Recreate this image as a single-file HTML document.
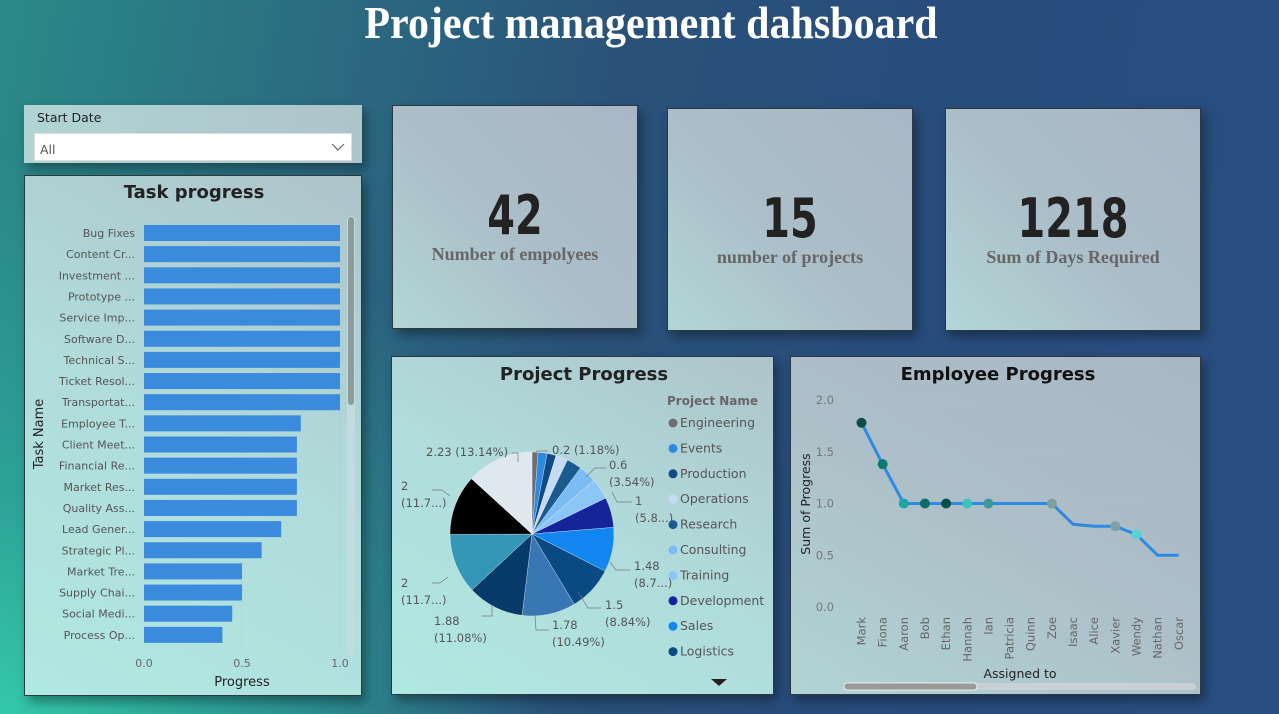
<!DOCTYPE html>
<html><head><meta charset="utf-8">
<style>
*{margin:0;padding:0;box-sizing:border-box}
body{width:1279px;height:714px;overflow:hidden;position:relative;font-family:"Liberation Sans",sans-serif;
background:
radial-gradient(ellipse 560px 560px at 0px 714px, rgba(52,200,170,1) 0%, rgba(45,170,155,0.8) 40%, rgba(40,120,130,0) 100%),
linear-gradient(100deg,#2a8a88 0%,#2b6a80 25%,#2a5279 45%,#284c7c 70%,#294e80 100%);}
.title{position:absolute;left:0;width:1302px;top:0px;text-align:center;font-family:"Liberation Serif",serif;font-weight:bold;font-size:42px;color:#fff;transform:scaleY(1.08)}
.panel{position:absolute;border:1px solid #2a3a40;box-shadow:4px 6px 10px rgba(0,0,0,0.35)}
.kpi{background:linear-gradient(45deg,#b2d6d8 0%,#abbfc8 45%,#a9b6c6 100%);text-align:center}
.kpi .n{position:absolute;left:0;right:0;top:78px;font-family:"DejaVu Sans Condensed","DejaVu Sans",sans-serif;font-weight:bold;font-size:54px;color:#222;transform:scaleX(0.82)}
.kpi .l{position:absolute;left:0;right:0;top:138px;font-family:"Liberation Serif",serif;font-weight:bold;font-size:18px;color:#666}
.light{background:linear-gradient(30deg,#b0e8e2 0%,#b0dcdb 50%,#aec4cb 100%)}
svg text{font-family:"DejaVu Sans",sans-serif}
</style></head><body>
<div class="title">Project management dahsboard</div>

<div class="panel" style="left:24px;top:105px;width:338px;height:58px;background:linear-gradient(90deg,#b0d4d4,#aec4cb);border:none">
<div style="position:absolute;left:13px;top:5px;font-family:'DejaVu Sans',sans-serif;font-size:12.5px;color:#222">Start Date</div>
<div style="position:absolute;left:10px;top:28px;width:318px;height:28px;background:#fff;border:1px solid #ddd">
<span style="position:absolute;left:5px;top:8px;font-size:12.5px;color:#555;font-family:'DejaVu Sans',sans-serif">All</span>
<svg style="position:absolute;right:6px;top:9px" width="14" height="9"><polyline points="1,1 7,7 13,1" fill="none" stroke="#666" stroke-width="1.2"/></svg></div>
</div>

<div class="panel light" style="left:24px;top:175px;width:338px;height:521px">
<svg width="338" height="521" id="bars"></svg></div>

<div class="panel kpi" style="left:392px;top:105px;width:246px;height:224px"><div class="n">42</div><div class="l">Number of empolyees</div></div>
<div class="panel kpi" style="left:667px;top:108px;width:246px;height:223px"><div class="n">15</div><div class="l">number of projects</div></div>
<div class="panel kpi" style="left:945px;top:108px;width:256px;height:223px"><div class="n">1218</div><div class="l">Sum of Days Required</div></div>

<div class="panel light" style="left:391px;top:356px;width:383px;height:339px;background:linear-gradient(30deg,#b0e8e2 0%,#b0dcdb 50%,#aec4cb 100%)">
<svg width="383" height="339" id="pie"></svg></div>

<div class="panel" style="left:790px;top:356px;width:411px;height:339px;background:linear-gradient(30deg,#b0d4d6 0%,#adbfc8 50%,#a9b6c4 100%)">
<svg width="411" height="339" id="line"></svg></div>

<script>
const NS="http://www.w3.org/2000/svg";
function el(p,t,a,txt){const e=document.createElementNS(NS,t);for(const k in a)e.setAttribute(k,a[k]);if(txt!==undefined)e.textContent=txt;p.appendChild(e);return e;}
const b=document.getElementById('bars');
el(b,'text',{x:169,y:22,'text-anchor':'middle','font-size':18,'font-weight':'bold',fill:'#222'},'Task progress');
const names=["Bug Fixes","Content Cr...","Investment ...","Prototype ...","Service Imp...","Software D...","Technical S...","Ticket Resol...","Transportat...","Employee T...","Client Meet...","Financial Re...","Market Res...","Quality Ass...","Lead Gener...","Strategic Pl...","Market Tre...","Supply Chai...","Social Medi...","Process Op..."];
const vals=[1,1,1,1,1,1,1,1,1,0.8,0.78,0.78,0.78,0.78,0.7,0.6,0.5,0.5,0.45,0.4];
const x0=119,w1=196;
el(b,'line',{x1:x0+98,y1:45,x2:x0+98,y2:470,stroke:'#9cc',"stroke-dasharray":'2,2','stroke-width':0.6});
el(b,'line',{x1:x0+196,y1:45,x2:x0+196,y2:470,stroke:'#9cc',"stroke-dasharray":'2,2','stroke-width':0.6});
names.forEach((n,i)=>{const cy=57+i*21.15;
el(b,'rect',{x:x0,y:cy-8,width:vals[i]*w1,height:16,fill:'#3a8ade'});
el(b,'text',{x:x0-9,y:cy+4,'text-anchor':'end','font-size':11,fill:'#555'},n);});
['0.0','0.5','1.0'].forEach((t,i)=>el(b,'text',{x:x0+i*98,y:491,'text-anchor':'middle','font-size':11,fill:'#666'},t));
el(b,'text',{x:217,y:510,'text-anchor':'middle','font-size':13,fill:'#222'},'Progress');
el(b,'text',{x:18,y:258,'text-anchor':'middle','font-size':13,fill:'#222',transform:'rotate(-90 18 258)'},'Task Name');
el(b,'rect',{x:322,y:40,width:8,height:440,rx:4,fill:'#c0dcdc'});
el(b,'rect',{x:323,y:41,width:6,height:188,rx:3,fill:'#8f9a9c'});

const p=document.getElementById('pie');
el(p,'text',{x:192,y:23,'text-anchor':'middle','font-size':18,'font-weight':'bold',fill:'#222'},'Project Progress');
const sl=[[0.2,'#6b6f72'],[0.3,'#2e8ae0'],[0.3,'#0f4c86'],[0.4,'#c6dcf5'],[0.5,'#1a5a8c'],[0.6,'#7cbcf5'],[0.7,'#8cc6f6'],[1,'#14249a'],[1.48,'#1186f0'],[1.5,'#0a4a82'],[1.78,'#3877b3'],[1.88,'#083a6a'],[2,'#3497b8'],[2,'#000'],[2.23,'#dfe8ee']];
const tot=sl.reduce((s,a)=>s+a[0],0);const cx=140,cy=177,r=82;let a=0;
sl.forEach(([v,c])=>{const a1=a+v/tot*2*Math.PI;const x1=cx+r*Math.sin(a),y1=cy-r*Math.cos(a),x2=cx+r*Math.sin(a1),y2=cy-r*Math.cos(a1);
el(p,'path',{d:`M${cx},${cy}L${x1},${y1}A${r},${r} 0 ${a1-a>Math.PI?1:0} 1 ${x2},${y2}Z`,fill:c,stroke:'#fff','stroke-width':0.3});a=a1;});
const lab=[[160,97,'0.2 (1.18%)',''],[217,112,'0.6','(3.54%)'],[243,148,'1','(5.8...)'],[242,213,'1.48','(8.7...)'],[213,252,'1.5','(8.84%)'],[160,272,'1.78','(10.49%)'],[42,268,'1.88','(11.08%)'],[9,230,'2','(11.7...)'],[9,133,'2','(11.7...)'],[34,99,'2.23 (13.14%)','']];
lab.forEach(l=>{el(p,'text',{x:l[0],y:l[1],'font-size':11.5,fill:'#555'},l[2]);if(l[3])el(p,'text',{x:l[0],y:l[1]+17,'font-size':11.5,fill:'#555'},l[3]);});
[[120,96,126,96,126,105],[156,94,145,94,143,104],[214,111,203,111,194,120],[240,145,225,145,220,135],[238,213,224,213,218,205],[209,251,196,251,186,235],[157,273,144,273,143,258],[90,259,100,259,100,248],[40,226,48,226,56,220],[40,133,50,133,58,139]].forEach(q=>el(p,'polyline',{points:q.join(' '),fill:'none',stroke:'#777','stroke-width':0.7}));
el(p,'text',{x:275,y:48,'font-size':12,'font-weight':'bold',fill:'#666'},'Project Name');
const lg=[['Engineering','#6b6f72'],['Events','#2e8ae0'],['Production','#0f4c86'],['Operations','#c6dcf5'],['Research','#1a5a8c'],['Consulting','#7cbcf5'],['Training','#8cc6f6'],['Development','#14249a'],['Sales','#1186f0'],['Logistics','#0a4a82']];
lg.forEach((g,i)=>{const y=70+i*25.4;el(p,'circle',{cx:281,cy:y-4,r:4.5,fill:g[1]});el(p,'text',{x:288,y:y,'font-size':12.5,fill:'#555'},g[0]);});
el(p,'path',{d:'M319,322 L335,322 L327,329Z',fill:'#222'});

const L=document.getElementById('line');
el(L,'text',{x:207,y:23,'text-anchor':'middle','font-size':18,'font-weight':'bold',fill:'#111'},'Employee Progress');
const Y=v=>250-v*103.5;
[0,0.5,1,1.5,2].forEach(v=>{el(L,'line',{x1:50,x2:402,y1:Y(v),y2:Y(v),stroke:'#b8c4cc','stroke-dasharray':'1,3','stroke-width':0.8});el(L,'text',{x:43,y:Y(v)+4,'text-anchor':'end','font-size':11.5,fill:'#777'},v.toFixed(1));});
el(L,'text',{x:19,y:147,'text-anchor':'middle','font-size':12.5,fill:'#222',transform:'rotate(-90 19 147)'},'Sum of Progress');
const emp=['Mark','Fiona','Aaron','Bob','Ethan','Hannah','Ian','Patricia','Quinn','Zoe','Isaac','Alice','Xavier','Wendy','Nathan','Oscar'];
const ev=[1.78,1.38,1,1,1,1,1,1,1,1,0.8,0.78,0.78,0.7,0.5,0.5];
const X=i=>70.5+i*21.15;
el(L,'polyline',{points:ev.map((v,i)=>X(i)+','+Y(v)).join(' '),fill:'none',stroke:'#2e8ae0','stroke-width':3,'stroke-linejoin':'round'});
const dc={0:'#0a4e48',1:'#0d7a72',2:'#1aa6a2',3:'#0d6e68',4:'#0a4e48',5:'#3cc2c0',6:'#3a9a9a',9:'#80a0a0',12:'#80a0a6',13:'#58d0d6'};
for(const k in dc)el(L,'circle',{cx:X(+k),cy:Y(ev[k]),r:5,fill:dc[k]});
emp.forEach((n,i)=>{el(L,'text',{x:X(i)+4,y:260,'text-anchor':'end','font-size':11.5,fill:'#666',transform:`rotate(-90 ${X(i)+4} 260)`},n);});
el(L,'text',{x:229,y:321,'text-anchor':'middle','font-size':12.5,fill:'#222'},'Assigned to');
el(L,'rect',{x:53,y:326,width:352,height:7,rx:3.5,fill:'#c8d0d6'});
el(L,'rect',{x:53,y:326,width:133,height:7,rx:3.5,fill:'#999',stroke:'#fff','stroke-width':0.8});
</script>
</body></html>
